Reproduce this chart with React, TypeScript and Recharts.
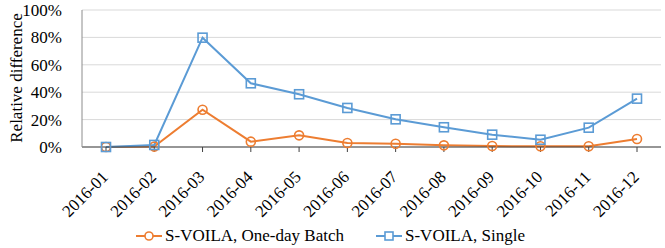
import React from 'react';
import { LineChart, Line, XAxis, YAxis, CartesianGrid, Legend } from 'recharts';

// --- DATA ---
const MONTHS = ['2016-01', '2016-02', '2016-03', '2016-04', '2016-05', '2016-06', '2016-07', '2016-08', '2016-09', '2016-10', '2016-11', '2016-12'];
const BATCH = [0, 0.3, 27.2, 3.9, 8.5, 2.9, 2.4, 1.2, 0.7, 0.5, 0.6, 5.8];
const SINGLE = [0, 1.5, 79.8, 46.5, 38.5, 28.5, 20.2, 14.4, 9, 5.3, 14.1, 35.3];
const Y_TICKS = [0, 20, 40, 60, 80, 100];

const ORANGE = '#ED7D31';
const BLUE = '#5B9BD5';
const FONT = '"Liberation Serif", "Times New Roman", serif';

const chartData = MONTHS.map((m, i) => ({ month: m, batch: BATCH[i], single: SINGLE[i] }));

const CircleDot = (props: any) => {
    const { cx, cy } = props;
    if (cx == null || cy == null) return null;
    return <circle cx={cx} cy={cy} r={4.5} fill="none" stroke={ORANGE} strokeWidth={1.6} />;
};

const SquareDot = (props: any) => {
    const { cx, cy } = props;
    if (cx == null || cy == null) return null;
    return <rect x={cx - 4.5} y={cy - 4.5} width={9} height={9} fill="none" stroke={BLUE} strokeWidth={1.6} />;
};

const MonthTick = (props: any) => {
    const { x, y, payload } = props;
    return (
        <g transform={`translate(${x + 3},${y + 24}) rotate(-45)`}>
            <text x={0} y={0} textAnchor="end" fill="#000" style={{ fontSize: 17, fontFamily: FONT }}>
                {payload.value}
            </text>
        </g>
    );
};

const LegendContent = () => {
    const items = [
        { name: 'S-VOILA, One-day Batch', color: ORANGE, shape: 'circle' },
        { name: 'S-VOILA, Single', color: BLUE, shape: 'square' }
    ];
    return (
        <div style={{ display: 'flex', justifyContent: 'center', gap: 32, paddingTop: 10, fontFamily: FONT, fontSize: 17, color: '#000' }}>
            {items.map(it => (
                <div key={it.name} style={{ display: 'flex', alignItems: 'center' }}>
                    <svg width={26} height={14} style={{ marginRight: 3 }}>
                        <line x1={0} y1={7} x2={26} y2={7} stroke={it.color} strokeWidth={2} />
                        {it.shape === 'circle'
                            ? <circle cx={13} cy={7} r={4} fill="#fff" stroke={it.color} strokeWidth={1.6} />
                            : <rect x={9} y={3} width={8} height={8} fill="#fff" stroke={it.color} strokeWidth={1.6} />}
                    </svg>
                    <span>{it.name}</span>
                </div>
            ))}
        </div>
    );
};

export default function App() {
    return (
        <div style={{ position: 'absolute', left: 0, top: 0, width: 665, height: 248, background: '#fff', fontFamily: FONT }}>
            <LineChart width={665} height={248} data={chartData} margin={{ top: 10, right: 4, left: 0, bottom: 0 }}>
                <CartesianGrid vertical={false} stroke="#d9d9d9" />
                <XAxis
                    dataKey="month"
                    interval={0}
                    height={69}
                    padding={{ left: 24, right: 24 }}
                    axisLine={{ stroke: '#404040' }}
                    tickLine={{ stroke: '#404040' }}
                    tickSize={5}
                    tick={<MonthTick />}
                />
                <YAxis
                    domain={[0, 100]}
                    ticks={Y_TICKS}
                    width={82}
                    axisLine={{ stroke: '#8c8c8c' }}
                    tickLine={false}
                    tickMargin={14}
                    tickFormatter={(v: number) => `${v}%`}
                    tick={{ fontSize: 17, fontFamily: FONT, fill: '#000' }}
                    label={() => (
                        <text x={16} y={78} transform="rotate(-90 16 78)" textAnchor="middle" dominantBaseline="central" fill="#000" style={{ fontSize: 17, fontFamily: FONT }}>
                            Relative difference
                        </text>
                    )}
                />
                <Legend verticalAlign="bottom" height={32} content={<LegendContent />} />
                <Line
                    type="linear"
                    dataKey="batch"
                    stroke={ORANGE}
                    strokeWidth={2}
                    dot={<CircleDot />}
                    activeDot={false}
                    isAnimationActive={false}
                />
                <Line
                    type="linear"
                    dataKey="single"
                    stroke={BLUE}
                    strokeWidth={2}
                    dot={<SquareDot />}
                    activeDot={false}
                    isAnimationActive={false}
                />
            </LineChart>
        </div>
    );
}
